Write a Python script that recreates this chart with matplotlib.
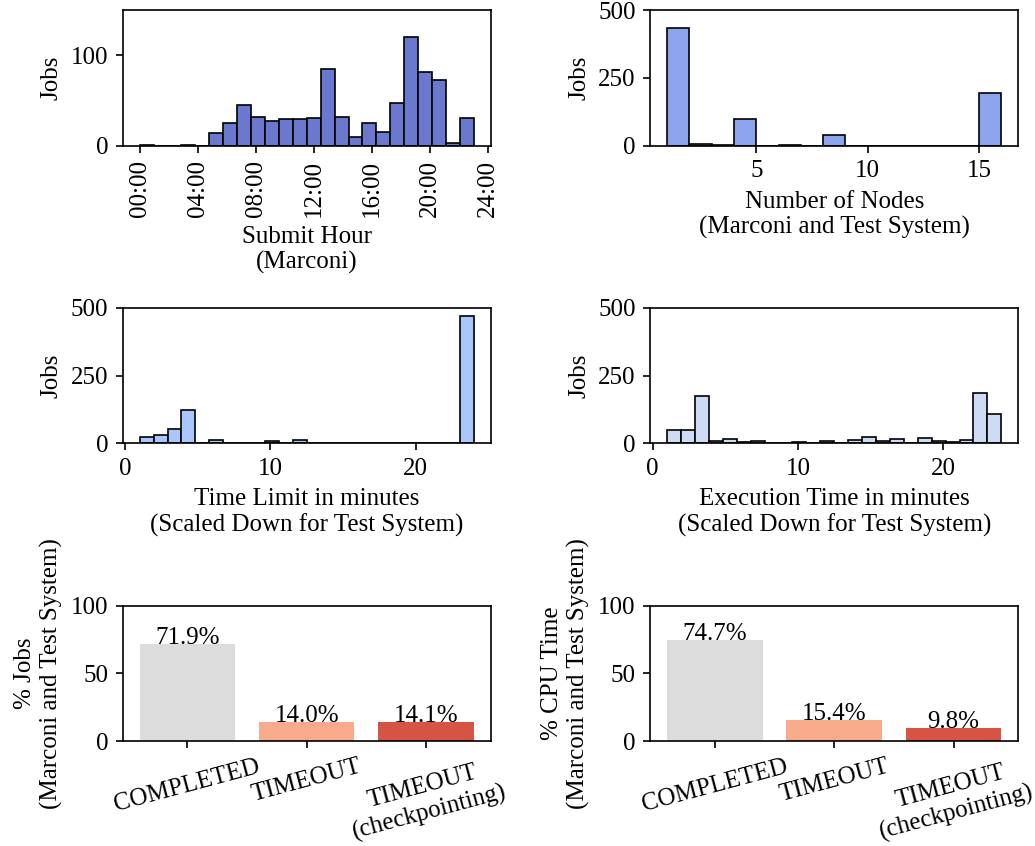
import numpy as np
import matplotlib
matplotlib.use("Agg")
import matplotlib.pyplot as plt

plt.rcParams['font.family'] = ['Liberation Serif', 'DejaVu Serif']
plt.rcParams['font.size'] = 12

# ---------------- data ----------------
# Submit hour histogram (Marconi): 24 bins between 0 and 23 h
hour_counts = [1, 0, 0, 1, 0, 14, 25, 45, 32, 27, 29, 29, 31, 85, 32, 10,
               25, 15, 47, 120, 82, 73, 3, 31]
hour_range = (0, 23)
hour_ticks = [0, 4, 8, 12, 16, 20, 24]
hour_ticklabels = ["00:00", "04:00", "08:00", "12:00", "16:00", "20:00", "24:00"]

# Number of nodes: 15 bins between 1 and 16
node_counts = [433, 6, 2, 100, 0, 1, 0, 40, 0, 0, 0, 0, 0, 0, 196]
node_range = (1, 16)

# Time limit (minutes): 24 bins between 1 and 24
limit_counts = [24, 32, 52, 123, 0, 11, 0, 2, 0, 10, 0, 11, 0, 0, 0, 2,
                0, 1, 0, 0, 0, 0, 0, 471]
limit_range = (1, 24)

# Execution time (minutes): 24 bins between 1 and 24
exec_counts = [50, 51, 176, 9, 16, 5, 10, 2, 1, 4, 0, 7, 2, 12, 25, 10,
               16, 0, 21, 10, 6, 12, 184, 108]
exec_range = (1, 24)

states = ["COMPLETED", "TIMEOUT", "TIMEOUT\n(checkpointing)"]
pct_jobs = [71.9, 14.0, 14.1]
pct_cpu = [74.7, 15.4, 9.8]

hist_colors = ["#6a78cd", "#8ca4ee", "#aac7fd", "#cddcf4"]
state_colors = ["#dcdcdc", "#f7ab8a", "#d75445"]

# ---------------- figure ----------------
fig, axes = plt.subplots(3, 2, figsize=(6.9, 5.64), dpi=150)
fig.subplots_adjust(left=0.1188, right=0.9836, bottom=0.1241, top=0.988,
                    wspace=0.435, hspace=1.197)


def hist(ax, counts, rng, color):
    edges = np.linspace(rng[0], rng[1], len(counts) + 1)
    ax.bar(edges[:-1], counts, width=np.diff(edges), align='edge',
           color=color, edgecolor='black', linewidth=0.8)


# Submit hour
ax = axes[0, 0]
hist(ax, hour_counts, hour_range, hist_colors[0])
ax.set_ylim(0, 150)
ax.set_yticks([0, 100])
ax.set_xticks(hour_ticks)
ax.set_xticklabels(hour_ticklabels, rotation=90)
ax.set_xlabel("Submit Hour\n(Marconi)")
ax.set_ylabel("Jobs")

# Number of nodes
ax = axes[0, 1]
hist(ax, node_counts, node_range, hist_colors[1])
ax.set_ylim(0, 500)
ax.set_yticks([0, 250, 500])
ax.set_xticks([5, 10, 15])
ax.set_xlabel("Number of Nodes\n(Marconi and Test System)")
ax.set_ylabel("Jobs")

# Time limit
ax = axes[1, 0]
hist(ax, limit_counts, limit_range, hist_colors[2])
ax.set_ylim(0, 500)
ax.set_yticks([0, 250, 500])
ax.set_xticks([0, 10, 20])
ax.set_xlabel("Time Limit in minutes\n(Scaled Down for Test System)")
ax.set_ylabel("Jobs")

# Execution time
ax = axes[1, 1]
hist(ax, exec_counts, exec_range, hist_colors[3])
ax.set_ylim(0, 500)
ax.set_yticks([0, 250, 500])
ax.set_xticks([0, 10, 20])
ax.set_xlabel("Execution Time in minutes\n(Scaled Down for Test System)")
ax.set_ylabel("Jobs")


def state_bars(ax, values, ylabel):
    x = np.arange(len(states))
    ax.bar(x, values, width=0.8, color=state_colors)
    for xi, v in zip(x, values):
        ax.text(xi, v, f"{v:.1f}%", ha='center', va='baseline')
    ax.set_ylim(0, 100)
    ax.set_yticks([0, 50, 100])
    ax.set_xticks(x)
    ax.set_xticklabels(states, rotation=15, ha='center')
    ax.set_ylabel(ylabel)


state_bars(axes[2, 0], pct_jobs, "% Jobs\n(Marconi and Test System)")
state_bars(axes[2, 1], pct_cpu, "% CPU Time\n(Marconi and Test System)")

for ax in axes.flat:
    ax.tick_params(direction='out')

fig.savefig("out.png", dpi=150)
